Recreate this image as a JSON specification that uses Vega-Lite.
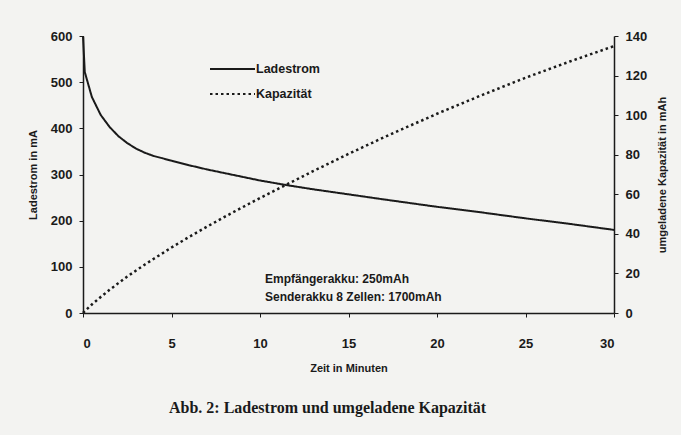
{
  "$schema": "https://vega.github.io/schema/vega-lite/v6.json",
  "width": 531,
  "height": 277,
  "autosize": {"type": "none"},
  "padding": {"left": 83, "top": 36, "right": 67, "bottom": 122},
  "background": "#f3f3f1",
  "datasets": {
    "strom": [
      {"t": 0, "mA": 600, "Reihe": "Ladestrom"},
      {"t": 0.1, "mA": 522, "Reihe": "Ladestrom"},
      {"t": 0.5, "mA": 468, "Reihe": "Ladestrom"},
      {"t": 1, "mA": 429, "Reihe": "Ladestrom"},
      {"t": 1.5, "mA": 403, "Reihe": "Ladestrom"},
      {"t": 2, "mA": 383, "Reihe": "Ladestrom"},
      {"t": 2.5, "mA": 368, "Reihe": "Ladestrom"},
      {"t": 3, "mA": 356, "Reihe": "Ladestrom"},
      {"t": 3.5, "mA": 347, "Reihe": "Ladestrom"},
      {"t": 4, "mA": 340, "Reihe": "Ladestrom"},
      {"t": 4.5, "mA": 335, "Reihe": "Ladestrom"},
      {"t": 5, "mA": 330, "Reihe": "Ladestrom"},
      {"t": 6, "mA": 320, "Reihe": "Ladestrom"},
      {"t": 7, "mA": 311, "Reihe": "Ladestrom"},
      {"t": 8, "mA": 303, "Reihe": "Ladestrom"},
      {"t": 9, "mA": 295, "Reihe": "Ladestrom"},
      {"t": 10, "mA": 287, "Reihe": "Ladestrom"},
      {"t": 11.5, "mA": 277, "Reihe": "Ladestrom"},
      {"t": 13, "mA": 268, "Reihe": "Ladestrom"},
      {"t": 15, "mA": 257, "Reihe": "Ladestrom"},
      {"t": 17, "mA": 246, "Reihe": "Ladestrom"},
      {"t": 20, "mA": 230, "Reihe": "Ladestrom"},
      {"t": 22.5, "mA": 218, "Reihe": "Ladestrom"},
      {"t": 25, "mA": 205, "Reihe": "Ladestrom"},
      {"t": 27.5, "mA": 193, "Reihe": "Ladestrom"},
      {"t": 30, "mA": 180, "Reihe": "Ladestrom"}
    ],
    "kap": [
      {"t": 0, "mAh": 0, "Reihe": "Kapazität"},
      {"t": 0.1, "mAh": 0.9, "Reihe": "Kapazität"},
      {"t": 0.5, "mAh": 4.3, "Reihe": "Kapazität"},
      {"t": 1, "mAh": 8.1, "Reihe": "Kapazität"},
      {"t": 1.5, "mAh": 11.7, "Reihe": "Kapazität"},
      {"t": 2, "mAh": 15.1, "Reihe": "Kapazität"},
      {"t": 2.5, "mAh": 18.4, "Reihe": "Kapazität"},
      {"t": 3, "mAh": 21.5, "Reihe": "Kapazität"},
      {"t": 3.5, "mAh": 24.5, "Reihe": "Kapazität"},
      {"t": 4, "mAh": 27.4, "Reihe": "Kapazität"},
      {"t": 5, "mAh": 33.1, "Reihe": "Kapazität"},
      {"t": 6, "mAh": 38.5, "Reihe": "Kapazität"},
      {"t": 7, "mAh": 43.6, "Reihe": "Kapazität"},
      {"t": 8, "mAh": 48.6, "Reihe": "Kapazität"},
      {"t": 9, "mAh": 53.4, "Reihe": "Kapazität"},
      {"t": 10, "mAh": 58.1, "Reihe": "Kapazität"},
      {"t": 11.5, "mAh": 64.9, "Reihe": "Kapazität"},
      {"t": 13, "mAh": 71.7, "Reihe": "Kapazität"},
      {"t": 15, "mAh": 80.4, "Reihe": "Kapazität"},
      {"t": 17, "mAh": 88.8, "Reihe": "Kapazität"},
      {"t": 20, "mAh": 100.7, "Reihe": "Kapazität"},
      {"t": 22.5, "mAh": 110.0, "Reihe": "Kapazität"},
      {"t": 25, "mAh": 118.9, "Reihe": "Kapazität"},
      {"t": 27.5, "mAh": 127.1, "Reihe": "Kapazität"},
      {"t": 30, "mAh": 134.9, "Reihe": "Kapazität"}
    ]
  },
  "title": {
    "text": "Abb. 2: Ladestrom und umgeladene Kapazität",
    "orient": "bottom",
    "anchor": "middle",
    "font": "Liberation Serif",
    "fontSize": 16,
    "fontWeight": "bold",
    "color": "#1a1a1a",
    "offset": 27,
    "dx": -21
  },
  "config": {
    "view": {"stroke": null},
    "axis": {
      "labelFont": "Liberation Sans",
      "labelFontWeight": "bold",
      "labelFontSize": 13,
      "labelColor": "#1a1a1a",
      "titleFont": "Liberation Sans",
      "titleFontWeight": "bold",
      "titleFontSize": 11,
      "titleColor": "#1a1a1a",
      "domainColor": "#1a1a1a",
      "domainWidth": 1.5,
      "tickColor": "#1a1a1a",
      "tickSize": 4,
      "grid": false
    },
    "legend": {
      "orient": "none",
      "legendX": 126,
      "legendY": 23,
      "symbolType": "stroke",
      "symbolSize": 2025,
      "symbolStrokeWidth": 2,
      "symbolStrokeColor": "#1a1a1a",
      "clipHeight": 20,
      "rowPadding": 5,
      "labelOffset": 0,
      "labelFont": "Liberation Sans",
      "labelFontWeight": "bold",
      "labelFontSize": 12.5,
      "labelColor": "#1a1a1a"
    }
  },
  "layer": [
    {
      "layer": [
        {
          "data": {"name": "strom"},
          "mark": {"type": "line", "strokeWidth": 2, "color": "#1a1a1a"},
          "encoding": {
            "x": {"field": "t", "type": "quantitative", "scale": {"domain": [0, 30], "nice": false},
                  "axis": {"values": [0, 5, 10, 15, 20, 25, 30], "labelPadding": 20, "title": "Zeit in Minuten", "titlePadding": 12}},
            "y": {"field": "mA", "type": "quantitative", "scale": {"domain": [0, 600], "nice": false},
                  "axis": {"orient": "left", "values": [0, 100, 200, 300, 400, 500, 600], "labelPadding": 7, "title": "Ladestrom in mA", "titlePadding": 12}},
            "strokeDash": {"field": "Reihe", "type": "nominal", "title": null,
                           "scale": {"domain": ["Ladestrom", "Kapazität"], "range": [[1, 0], [2.5, 3]]}}
          }
        },
        {
          "data": {"values": [{}]},
          "mark": {"type": "text", "text": ["Empfängerakku: 250mAh", "Senderakku 8 Zellen: 1700mAh"],
                   "align": "left", "baseline": "middle", "lineHeight": 18,
                   "font": "Liberation Sans", "fontWeight": "bold", "fontSize": 12, "color": "#1a1a1a"},
          "encoding": {
            "x": {"datum": 10.28, "type": "quantitative", "title": "Zeit in Minuten"},
            "y": {"datum": 73.6, "type": "quantitative", "title": "Ladestrom in mA"}
          }
        }
      ]
    },
    {
      "data": {"name": "kap"},
      "mark": {"type": "line", "strokeWidth": 2.5, "color": "#1a1a1a", "strokeCap": "butt"},
      "encoding": {
        "x": {"field": "t", "type": "quantitative", "title": "Zeit in Minuten"},
        "y": {"field": "mAh", "type": "quantitative", "scale": {"domain": [0, 140], "nice": false},
              "axis": {"orient": "right", "values": [0, 20, 40, 60, 80, 100, 120, 140], "labelPadding": 7, "title": "umgeladene Kapazität in mAh", "titleAngle": -90, "titlePadding": 21}},
        "strokeDash": {"field": "Reihe", "type": "nominal", "title": null}
      }
    }
  ],
  "resolve": {"scale": {"y": "independent"}}
}
